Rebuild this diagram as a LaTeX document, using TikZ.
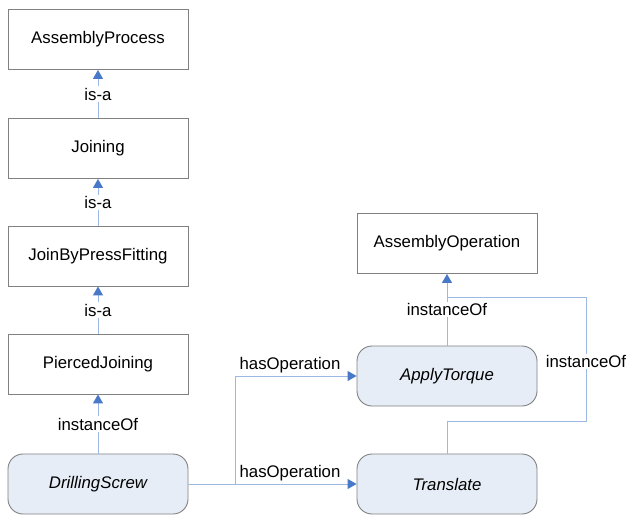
\documentclass[tikz,border=0pt]{standalone}
\usepackage{fontspec}
\setmainfont{Liberation Sans}
\usetikzlibrary{arrows.meta}
\definecolor{edgeblue}{RGB}{155,185,228}
\definecolor{tipblue}{RGB}{72,120,200}
\definecolor{boxgray}{RGB}{128,128,128}
\definecolor{instfill}{RGB}{230,237,247}
\begin{document}
\begin{tikzpicture}[x=1pt,y=-1pt,
  every node/.style={font=\fontsize{16.8}{20}\selectfont},
  classbox/.style={draw=boxgray,line width=0.9pt,fill=white,minimum width=180pt,minimum height=60pt,inner sep=0pt},
  instbox/.style={classbox,fill=instfill,rounded corners=15pt,font=\fontsize{16.8}{20}\selectfont\itshape},
  rel/.style={draw=edgeblue,line width=1pt,-{Triangle[width=10pt,length=9pt,color=tipblue]}},
  rellabel/.style={fill=white,inner sep=1.5pt}]
\useasboundingbox (0,0) rectangle (628,515);

% class hierarchy on the left
\node[classbox] (proc) at (98,39.5) {AssemblyProcess};
\node[classbox] (join) at (98,148.5) {Joining};
\node[classbox] (press) at (98,256) {JoinByPressFitting};
\node[classbox] (pierce) at (98,364) {PiercedJoining};
\node[instbox] (drill) at (98,484) {DrillingScrew};

% operations on the right
\node[classbox] (aop) at (447,243.5) {AssemblyOperation};
\node[instbox] (torque) at (447,376) {ApplyTorque};
\node[instbox] (trans) at (447,484) {Translate};

% is-a and instanceOf links
\draw[rel] (join) -- node[rellabel] {is-a} (proc);
\draw[rel] (press) -- node[rellabel] {is-a} (join);
\draw[rel] (pierce) -- node[rellabel] {is-a} (press);
\draw[rel] (drill) -- node[rellabel] {instanceOf} (pierce);
\draw[rel] (torque) -- node[rellabel] {instanceOf} (aop);

% Translate is also an AssemblyOperation
\coordinate (tr1) at (447,421);
\coordinate (tr2) at (586,421);
\coordinate (tr3) at (586,297);
\coordinate (tr4) at (447,297);
\draw[draw=edgeblue,line width=1pt] (trans.north) -- (tr1) -- (tr2)
  -- node[rellabel,pos=0.48] {instanceOf} (tr3) -- (tr4);

% hasOperation links
\coordinate (split) at (235,484);
\coordinate (bend) at (235,376);
\draw[rel] (drill.east) -- (split) -- (bend) -- (torque.west);
\draw[rel] (split) -- (trans.west);
\node[anchor=south,inner sep=2pt] (hop1) at (290,375) {hasOperation};
\node[anchor=south,inner sep=2pt] (hop2) at (290,483) {hasOperation};
\end{tikzpicture}
\end{document}
